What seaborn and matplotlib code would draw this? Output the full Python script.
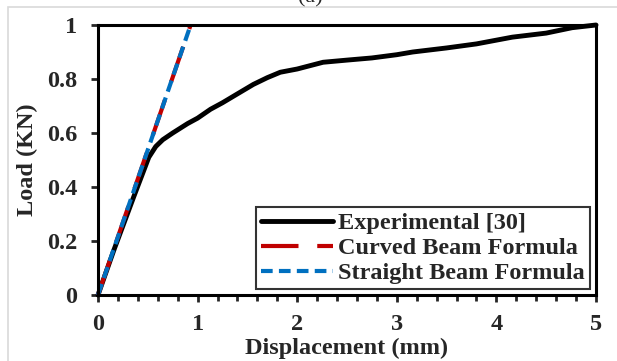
import matplotlib
matplotlib.use("Agg")
import matplotlib.pyplot as plt
import matplotlib.patches as mpatches
from matplotlib.ticker import MultipleLocator
import seaborn as sns
import pandas as pd

# Load-displacement data
exp_disp = [0, 0.16, 0.36, 0.51, 0.58, 0.65, 0.75, 0.9, 1.0, 1.13, 1.25, 1.4, 1.56, 1.7,
            1.83, 2.0, 2.26, 2.5, 2.75, 3.0, 3.16, 3.5, 3.8, 4.16, 4.5, 4.76, 5.0]
exp_load = [0, 0.167, 0.365, 0.51, 0.55, 0.575, 0.60, 0.635, 0.655, 0.688, 0.712, 0.745, 0.78,
            0.805, 0.825, 0.837, 0.862, 0.87, 0.878, 0.89, 0.90, 0.915, 0.93, 0.955, 0.97, 0.99, 1.0]
curved_disp = [0, 0.93]
curved_load = [0, 1.0]
straight_disp = [0, 0.93]
straight_load = [0, 1.0]

labels = ["Experimental [30]", "Curved Beam Formula", "Straight Beam Formula"]
colors = ["#000000", "#C00000", "#0070C0"]

sns.set_style("ticks")
plt.rcParams["font.family"] = ["Liberation Serif", "DejaVu Serif"]
plt.rcParams["font.weight"] = "bold"

FS = 17.5

fig = plt.figure(figsize=(6.17, 3.61), dpi=100)
fig.patches.append(mpatches.Rectangle((8 / 617, -0.1), 1.2, 1 - 7 / 361 + 0.1,
                                      transform=fig.transFigure, fill=False,
                                      edgecolor="#D9D9D9", linewidth=1.2, zorder=0))
fig.text(310 / 617, 1 - 2 / 361, "(a)", ha="center", va="baseline", fontsize=16,
         fontweight="normal")

ax = fig.add_axes([98 / 617, 1 - 295 / 361, 498 / 617, 270 / 361])

df_exp = pd.DataFrame({"x": exp_disp, "y": exp_load})
df_cur = pd.DataFrame({"x": curved_disp, "y": curved_load})
df_str = pd.DataFrame({"x": straight_disp, "y": straight_load})

sns.lineplot(data=df_exp, x="x", y="y", ax=ax, color=colors[0], linewidth=3.5,
             label=labels[0], sort=False, estimator=None)
sns.lineplot(data=df_cur, x="x", y="y", ax=ax, color=colors[1], linewidth=3.0,
             label=labels[1], sort=False, estimator=None)
sns.lineplot(data=df_str, x="x", y="y", ax=ax, color=colors[2], linewidth=3.0,
             label=labels[2], sort=False, estimator=None)

lines = ax.get_lines()
lines[1].set_dashes([9, 4.5])
lines[2].set_dashes([2.8, 1.5])
for ln in lines:
    ln.set_solid_capstyle("round")
    ln.set_clip_on(False)

ax.set_xlim(0, 5)
ax.set_ylim(0, 1)
ax.xaxis.set_major_locator(MultipleLocator(1))
ax.xaxis.set_minor_locator(MultipleLocator(0.2))
ax.set_yticks([0, 0.2, 0.4, 0.6, 0.8, 1.0])
ax.set_yticklabels(["0", "0.2", "0.4", "0.6", "0.8", "1"])

for s in ax.spines.values():
    s.set_linewidth(2.2)
    s.set_color("black")
    s.set_visible(True)

ax.tick_params(axis="x", which="major", direction="out", length=5, width=2,
               labelsize=FS, pad=9)
ax.tick_params(axis="y", which="major", direction="out", length=5, width=2,
               labelsize=FS, pad=10)
ax.tick_params(axis="x", which="minor", direction="out", length=4, width=2)
ax.tick_params(axis="y", which="minor", length=0)

ax.set_xlabel("Displacement (mm)", fontsize=FS, fontweight="bold", labelpad=2)
ax.set_ylabel("Load (KN)", fontsize=FS, fontweight="bold", labelpad=6)

leg = ax.legend(loc="lower right", fontsize=FS, frameon=True, fancybox=False,
                handlelength=3.0, handletextpad=0.2, labelspacing=0.12,
                borderpad=0.2, borderaxespad=0.25)
leg.get_frame().set_edgecolor("black")
leg.get_frame().set_linewidth(1.5)
for t in leg.get_texts():
    t.set_fontweight("bold")

fig.savefig("out.png", dpi=100)
